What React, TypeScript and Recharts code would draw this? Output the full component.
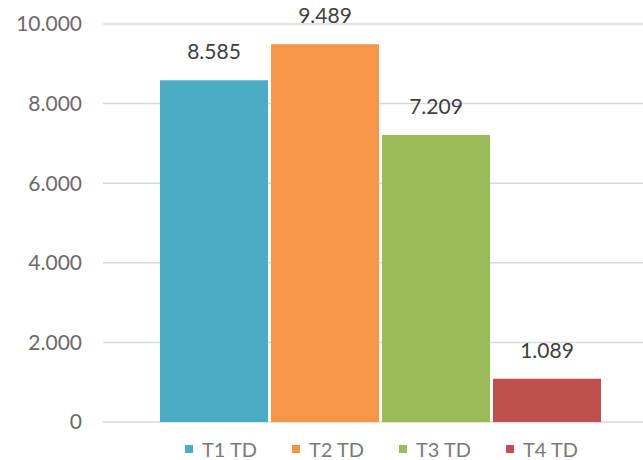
import React from 'react';
import { BarChart, Bar, XAxis, YAxis, CartesianGrid, LabelList } from 'recharts';

const seriesNames = ['T1 TD', 'T2 TD', 'T3 TD', 'T4 TD'];
const seriesValues = [8585, 9489, 7209, 1089];
const seriesColors = ['#4BACC6', '#F79646', '#9BBB59', '#C0504D'];
const yTicks = [0, 2000, 4000, 6000, 8000, 10000];

const chartData = [
  seriesNames.reduce((row: any, name, i) => {
    row[name] = seriesValues[i];
    return row;
  }, { name: '' }),
];

// 8585 -> "8.585"
const fmt = (v: any) => {
  const n = Math.round(Number(v));
  return n.toString().replace(/\B(?=(\d{3})+(?!\d))/g, '.');
};

const font = 'Lato, "Liberation Sans", sans-serif';

function LegendRow() {
  return (
    <div style={{ position: 'absolute', left: 185, top: 439, display: 'flex' }}>
      {seriesNames.map((name, i) => (
        <div key={name} style={{ display: 'flex', alignItems: 'center', width: 107, height: 20 }}>
          <div style={{ width: 8, height: 8, backgroundColor: seriesColors[i], marginRight: 9 }}></div>
          <span style={{ fontSize: 20, lineHeight: '20px', color: '#7a7a7a', fontFamily: font }}>{name}</span>
        </div>
      ))}
    </div>
  );
}

export default function App() {
  return (
    <div style={{ position: 'absolute', left: 0, top: 0, width: 643, height: 460, background: '#fff', overflow: 'hidden' }}>
      <BarChart
        width={643}
        height={460}
        data={chartData}
        margin={{ top: 24, right: 0, left: 0, bottom: 38 }}
        barCategoryGap={0}
        barGap={3}
      >
        <CartesianGrid vertical={false} stroke="#d9d9d9" strokeWidth={1.5} />
        <XAxis
          dataKey="name"
          tick={false}
          tickLine={false}
          axisLine={{ stroke: '#d9d9d9', strokeWidth: 1.5 }}
          padding={{ left: 57, right: 43 }}
          height={0}
        />
        <YAxis
          width={103}
          domain={[0, 10000]}
          ticks={yTicks}
          tickFormatter={fmt}
          axisLine={false}
          tickLine={false}
          tickMargin={15}
          tick={{ fontSize: 21, fill: '#6a6a6a', fontFamily: font }}
        />
        {seriesNames.map((name, i) => (
          <Bar key={name} dataKey={name} fill={seriesColors[i]} isAnimationActive={false}>
            <LabelList
              dataKey={name}
              position="top"
              offset={21}
              formatter={fmt}
              style={{ fontSize: 21, fill: '#404040', fontFamily: font }}
            />
          </Bar>
        ))}
      </BarChart>
      <LegendRow />
    </div>
  );
}
